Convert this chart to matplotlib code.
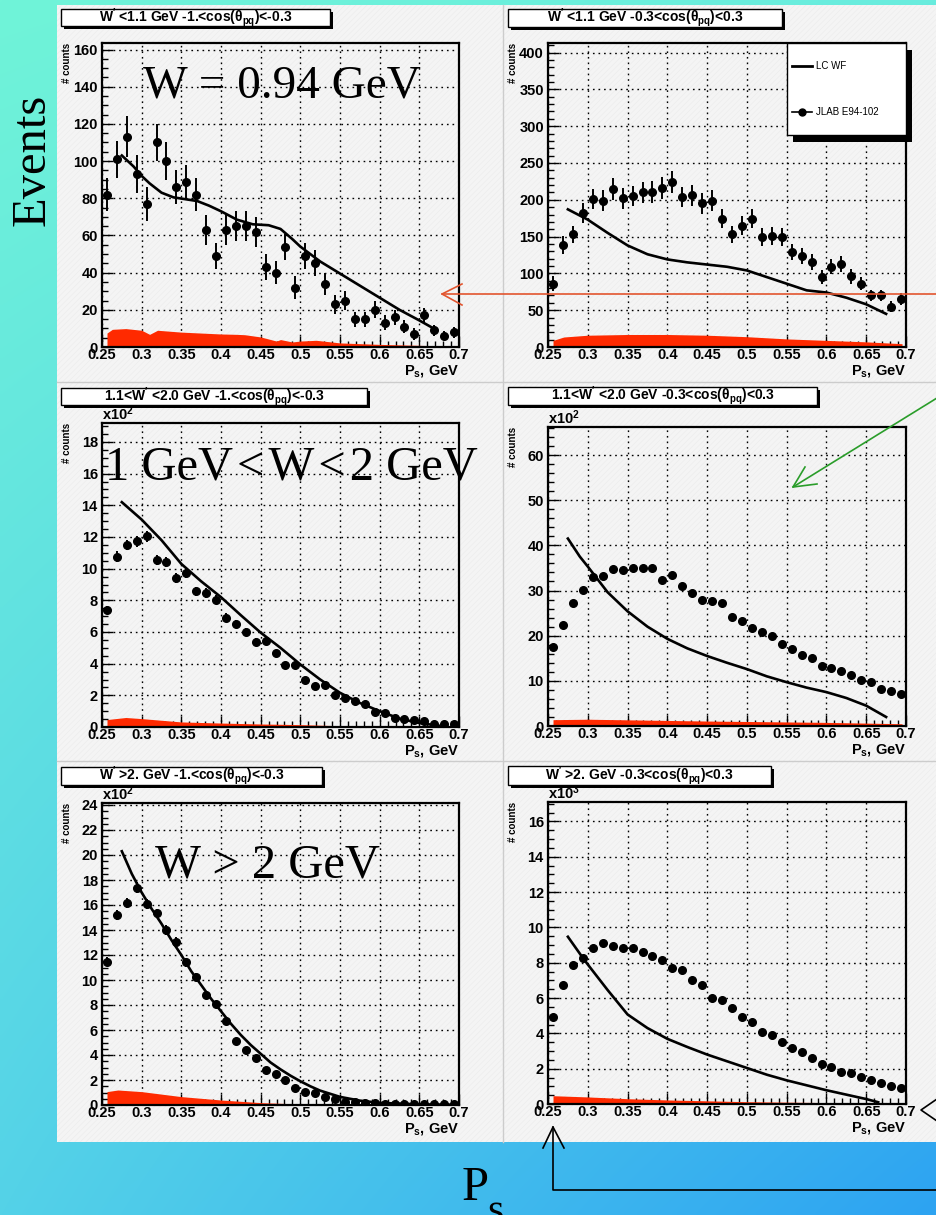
import numpy as np
import matplotlib.pyplot as plt
from matplotlib.patches import Rectangle
from matplotlib.ticker import MultipleLocator, FuncFormatter

plt.rcParams['font.family'] = ['Liberation Sans', 'DejaVu Sans']
plt.rcParams['font.weight'] = 'bold'
plt.rcParams['mathtext.fontset'] = 'custom'
plt.rcParams['mathtext.rm'] = 'Liberation Sans:bold'
plt.rcParams['mathtext.it'] = 'Liberation Sans:bold'
plt.rcParams['mathtext.bf'] = 'Liberation Sans:bold'
plt.rcParams['hatch.linewidth'] = 0.4

W, H = 937, 1215
RED = '#ff2a00'

# spectator momentum bin centres, GeV
ps_bins = [0.2563, 0.2688, 0.2813, 0.2938, 0.3063, 0.3188, 0.3313, 0.3438, 0.3563,
           0.3688, 0.3813, 0.3938, 0.4063, 0.4188, 0.4313, 0.4438, 0.4563, 0.4688,
           0.4813, 0.4938, 0.5063, 0.5188, 0.5313, 0.5438, 0.5563, 0.5688, 0.5813,
           0.5938, 0.6063, 0.6188, 0.6313, 0.6438, 0.6563, 0.6688, 0.6813, 0.6938]

# W < 1.1 GeV, backward
wlo_bwd = [82, 101, 113, 93, 77, 110, 100, 86, 89, 82, 63, 49, 63, 65, 65, 62, 43, 40,
           54, 32, 49, 45, 34, 23, 25, 15, 15, 20, 13, 16, 11, 7, 17, 9, 6, 8]
wlo_bwd_err = [9, 10, 11, 10, 9, 10, 10, 9, 9, 9, 8, 7, 8, 8, 8, 8, 7, 6,
               7, 6, 7, 7, 6, 5, 5, 4, 4, 4.5, 4, 4, 3.5, 3, 4, 3, 2.5, 3]
wlo_bwd_lc_x = [0.275, 0.29, 0.3, 0.31, 0.325, 0.34, 0.355, 0.37, 0.385, 0.4, 0.42, 0.44,
                0.46, 0.475, 0.49, 0.5, 0.525, 0.55, 0.575, 0.6, 0.625, 0.65, 0.67]
wlo_bwd_lc = [103, 97, 92, 88, 83, 80.5, 79.5, 78.5, 76, 73, 68.5, 66,
              65.5, 63.5, 58, 54, 46, 39.5, 33, 26.5, 20, 14.3, 9.5]
wlo_bwd_bg_x = [0.2563, 0.263, 0.28, 0.3, 0.31, 0.32, 0.35, 0.4, 0.42, 0.43, 0.45, 0.47,
                0.475, 0.49, 0.5, 0.52, 0.55, 0.6, 0.65, 0.695]
wlo_bwd_bg = [7.5, 9.5, 9.9, 9, 6.8, 9, 8, 7, 6.8, 6.6, 5.4, 3.2,
              4, 2.7, 3.2, 3.6, 2.2, 1.4, 0.9, 0.4]

# W < 1.1 GeV, transverse
wlo_perp = [86, 139, 153, 182, 201, 199, 215, 202, 205, 210, 211, 216, 224, 204, 206, 195,
            199, 174, 153, 165, 174, 149, 151, 149, 129, 124, 116, 95, 109, 113, 96, 86,
            70, 70, 55, 65]
wlo_perp_err = [10, 12, 12, 13, 14, 14, 15, 14, 14, 14, 15, 15, 15, 14, 14, 14,
                14, 13, 12, 13, 13, 12, 12, 12, 11, 11, 11, 10, 10, 11, 10, 9,
                8, 8, 7, 8]
wlo_perp_lc_x = [0.275, 0.3, 0.325, 0.35, 0.375, 0.4, 0.425, 0.45, 0.475, 0.5, 0.525,
                 0.55, 0.575, 0.6, 0.625, 0.65, 0.675]
wlo_perp_lc = [187, 173, 155, 138, 126, 119, 115, 112, 109, 104, 95, 86, 77, 74, 67, 58, 45]
wlo_perp_bg_x = [0.2563, 0.27, 0.3, 0.35, 0.4, 0.45, 0.5, 0.55, 0.6, 0.65, 0.695]
wlo_perp_bg = [9, 13.6, 16, 17, 17, 16, 14, 11, 9, 7, 4.5]

# 1.1 < W < 2.0 GeV, backward (x10^2)
wmid_bwd = [7.4, 10.76, 11.5, 11.73, 12.05, 10.55, 10.4, 9.43, 9.72, 8.56, 8.46, 8.03,
            6.91, 6.49, 6.03, 5.37, 5.45, 4.67, 3.91, 3.93, 2.96, 2.62, 2.66, 2.05,
            1.82, 1.67, 1.46, 0.93, 0.89, 0.57, 0.49, 0.42, 0.36, 0.21, 0.19, 0.19]
wmid_bwd_err = [0.27, 0.33, 0.34, 0.34, 0.35, 0.32, 0.32, 0.31, 0.31, 0.29, 0.29, 0.28,
                0.26, 0.25, 0.25, 0.23, 0.23, 0.22, 0.2, 0.2, 0.17, 0.16, 0.16, 0.14,
                0.13, 0.13, 0.12, 0.1, 0.09, 0.08, 0.07, 0.06, 0.06, 0.05, 0.04, 0.04]
wmid_bwd_lc_x = [0.275, 0.3, 0.325, 0.35, 0.375, 0.4, 0.425, 0.45, 0.475, 0.5, 0.525,
                 0.55, 0.575, 0.6, 0.625, 0.65, 0.675]
wmid_bwd_lc = [14.2, 13.1, 11.8, 10.3, 9.2, 8.2, 7.06, 5.96, 5.0, 3.95, 3.0,
               2.16, 1.52, 1.0, 0.53, 0.25, 0.08]
wmid_bwd_bg_x = [0.2563, 0.28, 0.3, 0.35, 0.4, 0.45, 0.5, 0.55, 0.6, 0.695]
wmid_bwd_bg = [0.47, 0.6, 0.53, 0.32, 0.25, 0.19, 0.15, 0.08, 0.05, 0.02]

# 1.1 < W < 2.0 GeV, transverse (x10^2)
wmid_perp = [17.5, 22.3, 27.3, 30.2, 32.9, 33.2, 34.7, 34.5, 34.9, 34.9, 34.9, 32.3,
             33.4, 31.0, 29.5, 27.9, 27.6, 27.3, 24.2, 23.3, 21.7, 20.8, 19.9, 18.1,
             17.0, 15.8, 15.0, 13.2, 12.9, 12.1, 11.4, 10.1, 9.7, 8.2, 7.8, 7.1]
wmid_perp_lc_x = [0.275, 0.29, 0.3, 0.325, 0.35, 0.375, 0.4, 0.425, 0.45, 0.475, 0.5,
                  0.525, 0.55, 0.575, 0.6, 0.625, 0.65, 0.675]
wmid_perp_lc = [41.5, 37.5, 35.3, 29.6, 25.4, 22.0, 19.3, 17.2, 15.5, 14.0, 12.6,
                11.0, 9.7, 8.5, 7.5, 6.2, 4.5, 2.0]
wmid_perp_bg_x = [0.2563, 0.3, 0.45, 0.6, 0.695]
wmid_perp_bg = [1.4, 1.5, 1.1, 0.8, 0.5]

# W > 2 GeV, backward (x10^2)
whi_bwd = [11.47, 15.2, 16.13, 17.39, 16.08, 15.33, 14.0, 13.07, 11.41, 10.21, 8.8, 8.05,
           6.75, 5.12, 4.4, 3.73, 2.8, 2.45, 2.0, 1.33, 1.07, 0.93, 0.61, 0.45,
           0.27, 0.21, 0.19, 0.13, 0.12, 0.1, 0.1, 0.08, 0.08, 0.07, 0.06, 0.05]
whi_bwd_err = [0.34, 0.39, 0.4, 0.42, 0.4, 0.39, 0.37, 0.36, 0.34, 0.32, 0.3, 0.28,
               0.26, 0.23, 0.21, 0.19, 0.17, 0.16, 0.14, 0.12, 0.1, 0.1, 0.08, 0.07,
               0.05, 0.05, 0.04, 0.04, 0.03, 0.03, 0.03, 0.03, 0.03, 0.03, 0.02, 0.02]
whi_bwd_lc_x = [0.275, 0.2875, 0.3, 0.3125, 0.325, 0.3375, 0.35, 0.3625, 0.375, 0.3875,
                0.4, 0.4125, 0.425, 0.4375, 0.45, 0.4625, 0.475, 0.4875, 0.5, 0.5125,
                0.525, 0.55, 0.575, 0.6, 0.65, 0.7]
whi_bwd_lc = [20.3, 18.5, 17.0, 15.7, 14.5, 13.2, 12.0, 10.7, 9.6, 8.5,
              7.5, 6.5, 5.6, 4.8, 4.1, 3.4, 2.85, 2.35, 1.9, 1.5,
              1.15, 0.65, 0.35, 0.17, 0.05, 0.02]
whi_bwd_bg_x = [0.2563, 0.27, 0.3, 0.35, 0.4, 0.45, 0.5, 0.55, 0.695]
whi_bwd_bg = [1.07, 1.2, 1.07, 0.67, 0.4, 0.19, 0.08, 0.03, 0.01]

# W > 2 GeV, transverse (x10^3)
whi_perp = [4.92, 6.71, 7.85, 8.26, 8.81, 9.09, 8.94, 8.85, 8.85, 8.6, 8.39, 8.15,
            7.71, 7.56, 7.0, 6.71, 5.99, 5.88, 5.46, 4.92, 4.63, 4.08, 3.89, 3.5,
            3.18, 2.93, 2.63, 2.27, 2.1, 1.83, 1.76, 1.53, 1.34, 1.17, 1.04, 0.91]
whi_perp_lc_x = [0.275, 0.294, 0.3, 0.325, 0.35, 0.375, 0.4, 0.425, 0.45, 0.475, 0.5,
                 0.525, 0.55, 0.575, 0.6, 0.625, 0.65, 0.665]
whi_perp_lc = [9.47, 8.26, 7.9, 6.45, 5.07, 4.3, 3.69, 3.23, 2.8, 2.42, 2.04,
               1.66, 1.34, 1.06, 0.78, 0.53, 0.28, 0.1]
whi_perp_bg_x = [0.2563, 0.3, 0.35, 0.4, 0.5, 0.6, 0.68]
whi_perp_bg = [0.47, 0.4, 0.3, 0.23, 0.13, 0.08, 0.0]

x_ticks = [0.25, 0.3, 0.35, 0.4, 0.45, 0.5, 0.55, 0.6, 0.65, 0.7]

panels = [
    dict(box=(102, 459, 43, 347), ytop=163.5, ystep=20, yminor=5, mult=None,
         y=wlo_bwd, err=wlo_bwd_err, lx=wlo_bwd_lc_x, ly=wlo_bwd_lc,
         bx=wlo_bwd_bg_x, by=wlo_bwd_bg,
         title=r"W$^{\prime}$ <1.1 GeV -1.<cos($\theta_{pq}$)<-0.3", tbox=(61, 9, 269, 17)),
    dict(box=(548, 906, 43, 347), ytop=413, ystep=50, yminor=10, mult=None,
         y=wlo_perp, err=wlo_perp_err, lx=wlo_perp_lc_x, ly=wlo_perp_lc,
         bx=wlo_perp_bg_x, by=wlo_perp_bg,
         title=r"W$^{\prime}$ <1.1 GeV -0.3<cos($\theta_{pq}$)<0.3", tbox=(508, 9, 274, 18)),
    dict(box=(102, 459, 423, 727), ytop=19.2, ystep=2, yminor=0.5, mult='2',
         y=wmid_bwd, err=wmid_bwd_err, lx=wmid_bwd_lc_x, ly=wmid_bwd_lc,
         bx=wmid_bwd_bg_x, by=wmid_bwd_bg,
         title=r"1.1<W$^{\prime}$ <2.0 GeV -1.<cos($\theta_{pq}$)<-0.3", tbox=(61, 388, 306, 17)),
    dict(box=(548, 906, 427, 726), ytop=66.2, ystep=10, yminor=2, mult='2',
         y=wmid_perp, err=None, lx=wmid_perp_lc_x, ly=wmid_perp_lc,
         bx=wmid_perp_bg_x, by=wmid_perp_bg,
         title=r"1.1<W$^{\prime}$ <2.0 GeV -0.3<cos($\theta_{pq}$)<0.3", tbox=(508, 387, 309, 18)),
    dict(box=(102, 459, 803, 1105), ytop=24.16, ystep=2, yminor=0.5, mult='2',
         y=whi_bwd, err=whi_bwd_err, lx=whi_bwd_lc_x, ly=whi_bwd_lc,
         bx=whi_bwd_bg_x, by=whi_bwd_bg,
         title=r"W$^{\prime}$ >2. GeV -1.<cos($\theta_{pq}$)<-0.3", tbox=(61, 767, 261, 18)),
    dict(box=(548, 906, 802, 1104), ytop=17.1, ystep=2, yminor=0.5, mult='3',
         y=whi_perp, err=None, lx=whi_perp_lc_x, ly=whi_perp_lc,
         bx=whi_perp_bg_x, by=whi_perp_bg,
         title=r"W$^{\prime}$ >2. GeV -0.3<cos($\theta_{pq}$)<0.3", tbox=(508, 766, 263, 19)),
]

fig = plt.figure(figsize=(W / 100, H / 100), dpi=100)

# slide background: diagonal gradient plus the grey canvas
bg = fig.add_axes([0, 0, 1, 1], zorder=0)
bg.set_xlim(0, W)
bg.set_ylim(H, 0)
bg.axis('off')
u = np.linspace(0, 1, 200)[None, :, None]
v = np.linspace(0, 1, 260)[:, None, None]
c_tl = np.array([112, 244, 216]) / 255
c_tr = np.array([104, 236, 222]) / 255
c_bl = np.array([84, 210, 232]) / 255
c_br = np.array([45, 163, 242]) / 255
grad = (1 - u) * (1 - v) * c_tl + u * (1 - v) * c_tr + (1 - u) * v * c_bl + u * v * c_br
bg.imshow(grad, extent=[0, W, H, 0], aspect='auto', interpolation='bilinear')
bg.add_patch(Rectangle((57, 5), 900, 1137, facecolor='#f4f4f4', edgecolor='none'))
bg.add_patch(Rectangle((57, 5), 900, 1137, facecolor='none', edgecolor='#ebebeb',
                       linewidth=0, hatch='//////'))
bg.plot([503, 503], [5, 1142], color='#cccccc', lw=1)
for yy in (382, 761):
    bg.plot([57, 937], [yy, yy], color='#cccccc', lw=1)
bg.set_xlim(0, W)
bg.set_ylim(H, 0)

for p in panels:
    l, r, t, b = p['box']
    ax = fig.add_axes([l / W, 1 - b / H, (r - l) / W, (b - t) / H], zorder=2)
    ax.set_facecolor('none')
    ax.fill_between(p['bx'], 0, p['by'], color=RED, lw=0, zorder=2)
    ax.plot(p['lx'], p['ly'], color='black', lw=1.9, zorder=3)
    if p['err'] is not None:
        ax.errorbar(ps_bins, p['y'], yerr=p['err'], fmt='o', color='black', ms=5.5,
                    elinewidth=1.4, capsize=0, zorder=4)
    else:
        ax.plot(ps_bins, p['y'], 'o', color='black', ms=5.5, zorder=4)
    ax.set_xlim(0.25, 0.7)
    ax.set_ylim(0, p['ytop'])
    ax.set_xticks(x_ticks)
    ax.xaxis.set_major_formatter(FuncFormatter(lambda val, pos: '%g' % round(val, 3)))
    ax.xaxis.set_minor_locator(MultipleLocator(0.01))
    ax.yaxis.set_major_locator(MultipleLocator(p['ystep']))
    ax.yaxis.set_minor_locator(MultipleLocator(p['yminor']))
    ax.yaxis.set_major_formatter(FuncFormatter(lambda val, pos: '%g' % round(val, 3)))
    ax.grid(True, which='major', color='black', linestyle=(0, (1.2, 2.8)), lw=1.0)
    ax.tick_params(which='major', direction='in', length=8, width=1, labelsize=10.5,
                   top=False, right=False)
    ax.tick_params(which='minor', direction='in', length=4, width=1, top=False, right=False)
    ax.tick_params(axis='x', pad=1)
    ax.tick_params(axis='y', pad=3)
    for s in ax.spines.values():
        s.set_linewidth(1.6)
    ax.text(-0.098, 1.0, '# counts', rotation=90, ha='center', va='top', fontsize=7,
            transform=ax.transAxes)
    ax.text(1.0, -0.052, r'P$_{s}$, GeV', ha='right', va='top', fontsize=10.5,
            transform=ax.transAxes)
    if p['mult']:
        ax.text(0.0, 1.0, r'x10$^{%s}$' % p['mult'], ha='left', va='bottom', fontsize=10.5,
                transform=ax.transAxes)
    p['ax'] = ax

# overlay in pixel coordinates: title boxes, legend, slide annotations
ov = fig.add_axes([0, 0, 1, 1], zorder=10)
ov.set_xlim(0, W)
ov.set_ylim(H, 0)
ov.axis('off')
ov.patch.set_alpha(0)

for p in panels:
    x0, y0, bw, bh = p['tbox']
    ov.add_patch(Rectangle((x0 + 3, y0 + 3), bw, bh, facecolor='black', edgecolor='none'))
    ov.add_patch(Rectangle((x0, y0), bw, bh, facecolor='white', edgecolor='black', lw=1))
    ov.text(x0 + bw / 2, y0 + bh / 2, p['title'], ha='center', va='center', fontsize=10)

# legend of the transverse low-W pad
ov.add_patch(Rectangle((793, 50), 119, 92, facecolor='black', edgecolor='none'))
ov.add_patch(Rectangle((787, 43), 119, 92, facecolor='white', edgecolor='black', lw=1))
ov.plot([792, 812], [66, 66], color='black', lw=2)
ov.text(816, 66, 'LC WF', ha='left', va='center', fontsize=7, fontweight='normal')
ov.plot([792, 812], [112, 112], color='black', lw=1.2)
ov.plot([802], [112], 'o', color='black', ms=5)
ov.text(816, 112, 'JLAB E94-102', ha='left', va='center', fontsize=7, fontweight='normal')

serif = dict(family=['Liberation Serif', 'DejaVu Serif'], fontweight='normal', color='black')
ov.text(143, 97, 'W = 0.94 GeV', ha='left', va='baseline', fontsize=34, **serif)
ov.text(105, 479, '1 GeV\u200a<\u200aW\u200a<\u200a2 GeV', ha='left', va='baseline',
        fontsize=35, **serif)
ov.text(155, 878, 'W > 2 GeV', ha='left', va='baseline', fontsize=35, **serif)
ov.text(33, 160, 'Events', ha='center', va='center', rotation=90, fontsize=35, **serif)
ov.text(462, 1200, 'P', ha='left', va='baseline', fontsize=35, **serif)
ov.text(487, 1222, 's', ha='left', va='baseline', fontsize=30, **serif)

# arrows
red_ln = '#e2552f'
ov.plot([442, 937], [294, 294], color=red_ln, lw=1.2)
ov.plot([462, 442, 462], [284, 294, 305], color=red_ln, lw=1.2)
green_ln = '#2a9d2a'
ov.plot([937, 793], [398, 487], color=green_ln, lw=1.2)
ov.plot([805, 793, 817], [467, 487, 484], color=green_ln, lw=1.2)
ov.plot([553, 553, 937], [1127, 1190, 1190], color='black', lw=1.2)
ov.plot([543, 553, 564], [1148, 1127, 1148], color='black', lw=1.2)
ov.plot([937, 921, 937], [1099, 1110, 1121], color='black', lw=1.2)

fig.savefig('out.png', dpi=100)
